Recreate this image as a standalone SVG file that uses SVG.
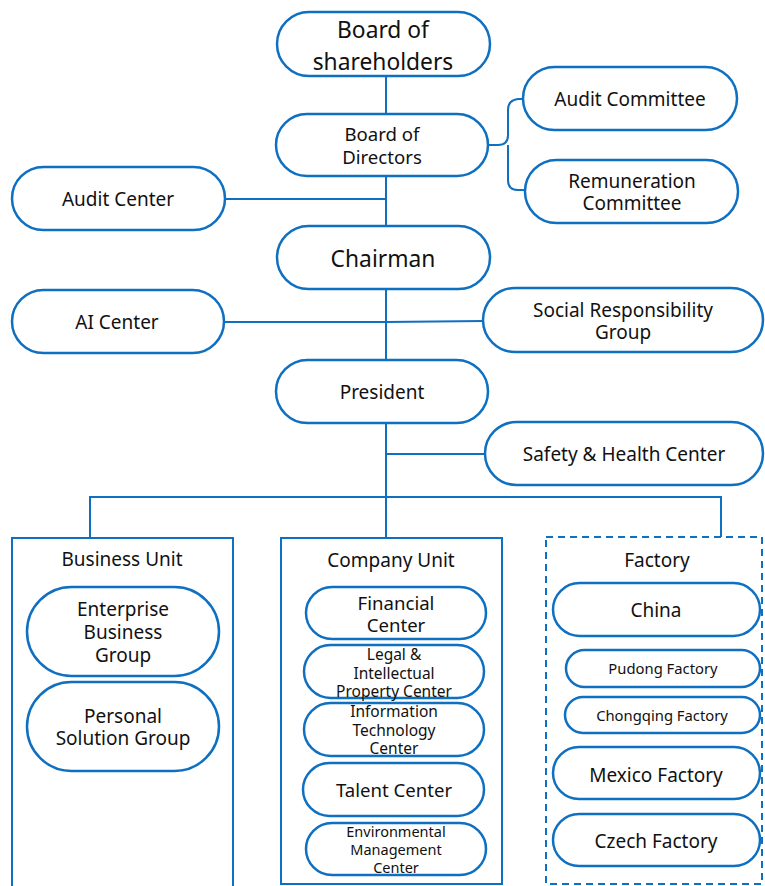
<svg xmlns="http://www.w3.org/2000/svg" width="765" height="886" viewBox="0 0 765 886">
<style>
.n{fill:#fff;stroke:#0F6FC0;stroke-width:2.5}
.c{fill:none;stroke:#0F6FC0;stroke-width:2}
.box{fill:#fff;stroke:#0F6FC0;stroke-width:2}
.dash{fill:#fff;stroke:#0F6FC0;stroke-width:2;stroke-dasharray:7 5}
text{font-family:"Noto Sans","Open Sans",sans-serif;fill:#111;text-anchor:middle}
.t22{font-size:22.8px}.t18{font-size:19px}.t17{font-size:18.6px}.t15{font-size:15px}.t14{font-size:15.5px}.t14b{font-size:14.8px}.t13{font-size:14.5px}
</style>
<rect width="765" height="886" fill="#fff"/>
<g id="connectors">
<path class="c" d="M386 76V538"/>
<path class="c" d="M488 145H498Q508 145 508 135V110Q508 100 518 99H523M508 145V180Q508 190 518 190H525"/>
<path class="c" d="M225 199H386"/>
<path class="c" d="M224 322H386L484 321"/>
<path class="c" d="M386 454H485"/>
<path class="c" d="M90 538V497H721V537"/>
<path class="c" d="M556 610V714H565M556 666H566"/>
</g>
<g id="business_unit"><rect class="box" x="12" y="538" width="221" height="350"/><text class="t18" x="122" y="566">Business Unit</text></g>
<g id="company_unit"><rect class="box" x="281" y="538" width="221" height="346"/><text class="t18" x="391" y="567">Company Unit</text></g>
<g id="factory"><rect class="dash" x="546" y="537" width="216" height="347"/><text class="t18" x="657" y="567">Factory</text></g>
<g id="shareholders"><rect class="n" x="277" y="12" width="213" height="64" rx="32"/><text class="t22" x="383" y="38">Board of</text><text class="t22" x="383" y="70">shareholders</text></g>
<g id="directors"><rect class="n" x="276" y="114" width="212" height="62" rx="31"/><text class="t17" x="382" y="141">Board of</text><text class="t17" x="382" y="164">Directors</text></g>
<g id="audit_committee"><rect class="n" x="523" y="67" width="214" height="63" rx="31.5"/><text class="t18" x="630" y="106">Audit Committee</text></g>
<g id="remuneration"><rect class="n" x="525" y="160" width="213" height="63" rx="31.5"/><text class="t18" x="632" y="188">Remuneration</text><text class="t18" x="632" y="210">Committee</text></g>
<g id="audit_center"><rect class="n" x="12" y="167" width="213" height="63" rx="31.5"/><text class="t18" x="118" y="206">Audit Center</text></g>
<g id="chairman"><rect class="n" x="277" y="226" width="213" height="63" rx="31.5"/><text class="t22" x="383" y="267">Chairman</text></g>
<g id="ai_center"><rect class="n" x="12" y="290" width="212" height="63" rx="31.5"/><text class="t18" x="117" y="329">AI Center</text></g>
<g id="social"><rect class="n" x="483" y="288" width="280" height="64" rx="32"/><text class="t18" x="623" y="317">Social Responsibility</text><text class="t18" x="623" y="339">Group</text></g>
<g id="president"><rect class="n" x="276" y="360" width="212" height="63" rx="31.5"/><text class="t18" x="382" y="399">President</text></g>
<g id="safety"><rect class="n" x="485" y="422" width="278" height="63" rx="31.5"/><text class="t18" x="624" y="461">Safety &amp; Health Center</text></g>
<g id="enterprise"><rect class="n" x="27" y="587" width="192" height="89" rx="44.5"/><text class="t18" x="123" y="616">Enterprise</text><text class="t18" x="123" y="639">Business</text><text class="t18" x="123" y="662">Group</text></g>
<g id="personal"><rect class="n" x="27" y="682" width="192" height="89" rx="44.5"/><text class="t18" x="123" y="723">Personal</text><text class="t18" x="123" y="745">Solution Group</text></g>
<g id="financial"><rect class="n" x="306" y="587" width="180" height="52" rx="26"/><text class="t17" x="396" y="610">Financial</text><text class="t17" x="396" y="632">Center</text></g>
<g id="legal"><rect class="n" x="304" y="645" width="180" height="53" rx="26.5"/><text class="t14" x="394" y="660">Legal &amp;</text><text class="t14" x="394" y="679">Intellectual</text><text class="t14" x="394" y="697">Property Center</text></g>
<g id="it"><rect class="n" x="304" y="703" width="180" height="53" rx="26.5"/><text class="t14" x="394" y="717">Information</text><text class="t14" x="394" y="736">Technology</text><text class="t14" x="394" y="754">Center</text></g>
<g id="talent"><rect class="n" x="303" y="763" width="181" height="53" rx="26.5"/><text class="t17" x="394" y="797">Talent Center</text></g>
<g id="environmental"><rect class="n" x="306" y="823" width="180" height="52" rx="26"/><text class="t13" x="396" y="837">Environmental</text><text class="t13" x="396" y="855">Management</text><text class="t13" x="396" y="873">Center</text></g>
<g id="china"><rect class="n" x="553" y="583" width="207" height="53" rx="26.5"/><text class="t18" x="656" y="617">China</text></g>
<g id="pudong"><rect class="n" x="566" y="650" width="194" height="37" rx="18.5"/><text class="t14b" x="663" y="674">Pudong Factory</text></g>
<g id="chongqing"><rect class="n" x="565" y="697" width="195" height="36" rx="18"/><text class="t14b" x="662" y="721">Chongqing Factory</text></g>
<g id="mexico"><rect class="n" x="553" y="747" width="207" height="52" rx="26"/><text class="t18" x="656" y="782">Mexico Factory</text></g>
<g id="czech"><rect class="n" x="553" y="814" width="207" height="52" rx="26"/><text class="t18" x="656" y="848">Czech Factory</text></g>
</svg>
